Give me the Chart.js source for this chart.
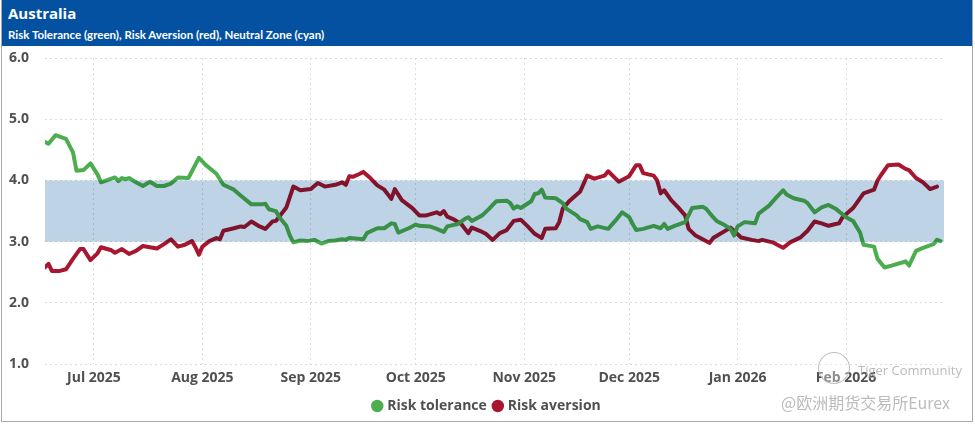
<!DOCTYPE html>
<html>
<head>
<meta charset="utf-8">
<script src="https://cdn.jsdelivr.net/npm/chart.js@4"></script>
<style>
  html, body { margin: 0; padding: 0; background: #fff; }
  #frame { position: absolute; left: 1px; top: 0; width: 972px; height: 422px; box-sizing: border-box;
           border: 1px solid #a9a9a9; border-top: none; overflow: hidden; }
  #header { position: absolute; left: 0; top: 0; width: 100%; height: 46px; background: #0351a0; color: #fff; }
  #title { position: absolute; left: 6px; top: 3px; font: bold 15px "Open Sans", sans-serif; }
  #subtitle { position: absolute; left: 6px; top: 28px; font: bold 11.5px "Lato", sans-serif; }
  #wrap { position: absolute; left: 1px; top: 46px; width: 969px; height: 377px; }
  .wm { position: absolute; color: rgba(175,175,175,0.85); white-space: nowrap; }
  #wmLogo { position: absolute; left: 816px; top: 352px; width: 30px; height: 30px; border: 1.5px solid rgba(175,175,175,0.8); border-radius: 50%; background: rgba(255,255,255,0.35); }
</style>
</head>
<body>
<div id="frame">
  <div id="header">
    <div id="title">Australia</div>
    <div id="subtitle">Risk Tolerance (green), Risk Aversion (red), Neutral Zone (cyan)</div>
  </div>
  <div id="wrap"><canvas id="c"></canvas></div>
  <div id="wmLogo"></div>
  <div class="wm" style="left:856px;top:361px;font:13px 'Open Sans',sans-serif;">Tiger Community</div>
  <div class="wm" style="left:779px;top:390px;font:16px 'Noto Sans CJK SC',sans-serif;">@欧洲期货交易所Eurex</div>
</div>
<script>
// ---- data ----
const toleranceDates = ['2025-06-17','2025-06-18','2025-06-20','2025-06-21','2025-06-23','2025-06-25','2025-06-26','2025-06-28','2025-06-30',
  '2025-07-02','2025-07-03','2025-07-05','2025-07-07','2025-07-08','2025-07-09','2025-07-10','2025-07-11','2025-07-13','2025-07-15','2025-07-17','2025-07-19','2025-07-21','2025-07-23','2025-07-25','2025-07-28','2025-07-31',
  '2025-08-02','2025-08-05','2025-08-07','2025-08-10','2025-08-12','2025-08-15','2025-08-18','2025-08-19','2025-08-20','2025-08-22','2025-08-23','2025-08-25','2025-08-26','2025-08-27','2025-08-29','2025-08-31',
  '2025-09-02','2025-09-04','2025-09-06','2025-09-08','2025-09-10','2025-09-11','2025-09-12','2025-09-16','2025-09-17','2025-09-20','2025-09-22','2025-09-24','2025-09-25','2025-09-26','2025-09-29',
  '2025-10-01','2025-10-02','2025-10-05','2025-10-07','2025-10-09','2025-10-10','2025-10-13','2025-10-15','2025-10-16','2025-10-17','2025-10-20','2025-10-22','2025-10-23','2025-10-24','2025-10-27','2025-10-28','2025-10-29','2025-10-30','2025-10-31',
  '2025-11-03','2025-11-04','2025-11-05','2025-11-06','2025-11-07','2025-11-10','2025-11-12','2025-11-13','2025-11-16','2025-11-17','2025-11-19','2025-11-20','2025-11-22','2025-11-25','2025-11-27','2025-11-29',
  '2025-12-01','2025-12-02','2025-12-03','2025-12-05','2025-12-08','2025-12-10','2025-12-11','2025-12-12','2025-12-14','2025-12-16','2025-12-17','2025-12-19','2025-12-22','2025-12-23','2025-12-25','2025-12-26','2025-12-28','2025-12-30','2025-12-31',
  '2026-01-01','2026-01-03','2026-01-06','2026-01-07','2026-01-10','2026-01-12','2026-01-14','2026-01-15','2026-01-17','2026-01-20','2026-01-21','2026-01-23','2026-01-24','2026-01-25','2026-01-27','2026-01-29',
  '2026-02-01','2026-02-03','2026-02-05','2026-02-06','2026-02-09','2026-02-10','2026-02-12','2026-02-14','2026-02-17','2026-02-18','2026-02-19','2026-02-21','2026-02-23','2026-02-24','2026-02-26','2026-02-27','2026-02-28'];
const toleranceValues = [4.63,4.60,4.74,4.72,4.68,4.46,4.16,4.17,4.28,
  4.10,3.97,4.01,4.05,3.99,4.04,4.02,4.04,3.97,3.91,3.98,3.91,3.91,3.95,4.05,4.04,4.37,
  4.25,4.11,3.93,3.85,3.75,3.61,3.61,3.62,3.53,3.50,3.40,3.26,3.10,2.99,3.02,3.01,
  3.03,2.97,3.01,3.02,3.04,3.03,3.06,3.04,3.14,3.22,3.22,3.30,3.29,3.15,3.22,
  3.28,3.26,3.25,3.21,3.16,3.25,3.29,3.37,3.40,3.34,3.43,3.54,3.60,3.66,3.67,3.63,3.54,3.58,3.55,
  3.66,3.78,3.79,3.85,3.72,3.71,3.63,3.54,3.43,3.37,3.32,3.21,3.25,3.21,3.34,3.48,
  3.40,3.29,3.19,3.21,3.26,3.22,3.29,3.21,3.26,3.30,3.32,3.55,3.57,3.54,3.40,3.34,3.28,3.21,3.10,
  3.25,3.32,3.30,3.46,3.59,3.72,3.84,3.77,3.71,3.67,3.63,3.48,3.52,3.56,3.60,3.54,
  3.40,3.34,3.15,2.95,2.92,2.72,2.58,2.61,2.66,2.68,2.61,2.85,2.90,2.92,2.96,3.03,3.01];

const aversionDates = ['2025-06-17','2025-06-18','2025-06-19','2025-06-21','2025-06-23','2025-06-25','2025-06-27','2025-06-28','2025-06-30',
  '2025-07-02','2025-07-03','2025-07-06','2025-07-07','2025-07-09','2025-07-11','2025-07-13','2025-07-15','2025-07-17','2025-07-19','2025-07-21','2025-07-23','2025-07-25','2025-07-27','2025-07-29','2025-07-30','2025-07-31',
  '2025-08-01','2025-08-03','2025-08-05','2025-08-06','2025-08-07','2025-08-10','2025-08-12','2025-08-13','2025-08-15','2025-08-17','2025-08-19','2025-08-21','2025-08-22','2025-08-25','2025-08-27','2025-08-29',
  '2025-09-01','2025-09-03','2025-09-05','2025-09-08','2025-09-10','2025-09-11','2025-09-12','2025-09-13','2025-09-15','2025-09-16','2025-09-18','2025-09-20','2025-09-22','2025-09-24','2025-09-25','2025-09-27','2025-09-30',
  '2025-10-02','2025-10-04','2025-10-07','2025-10-08','2025-10-09','2025-10-10','2025-10-12','2025-10-14','2025-10-16','2025-10-17','2025-10-20','2025-10-21','2025-10-23','2025-10-25','2025-10-27','2025-10-29','2025-10-31',
  '2025-11-02','2025-11-04','2025-11-06','2025-11-07','2025-11-10','2025-11-11','2025-11-12','2025-11-14','2025-11-17','2025-11-19','2025-11-21','2025-11-24','2025-11-25','2025-11-28',
  '2025-12-01','2025-12-03','2025-12-04','2025-12-05','2025-12-08','2025-12-09','2025-12-10','2025-12-11','2025-12-13','2025-12-15','2025-12-17','2025-12-18','2025-12-20','2025-12-22','2025-12-24','2025-12-25','2025-12-30',
  '2026-01-02','2026-01-05','2026-01-07','2026-01-08','2026-01-11','2026-01-13','2026-01-14','2026-01-16','2026-01-19','2026-01-21','2026-01-23','2026-01-25','2026-01-27','2026-01-29','2026-01-30','2026-01-31',
  '2026-02-03','2026-02-06','2026-02-09','2026-02-10','2026-02-11','2026-02-13','2026-02-16','2026-02-18','2026-02-19','2026-02-21','2026-02-23','2026-02-25','2026-02-27'];
const aversionValues = [2.58,2.64,2.52,2.52,2.55,2.72,2.88,2.88,2.70,
  2.81,2.91,2.86,2.82,2.88,2.80,2.85,2.93,2.91,2.89,2.96,3.04,2.92,2.95,3.01,2.91,2.79,
  2.92,3.01,3.06,3.04,3.18,3.22,3.25,3.24,3.33,3.26,3.21,3.33,3.34,3.56,3.90,3.84,
  3.86,3.96,3.90,3.93,3.97,3.93,4.07,4.06,4.11,4.14,4.04,3.92,3.85,3.70,3.86,3.68,3.55,
  3.43,3.43,3.48,3.45,3.50,3.41,3.36,3.29,3.14,3.23,3.16,3.13,3.03,3.14,3.19,3.34,3.36,
  3.25,3.13,3.06,3.21,3.22,3.32,3.54,3.67,3.82,4.08,4.03,4.08,4.15,3.98,
  4.07,4.25,4.25,4.12,4.08,4.00,3.79,3.84,3.68,3.56,3.43,3.21,3.10,3.04,2.98,3.06,3.23,
  3.07,3.03,3.01,3.03,2.99,2.93,2.90,2.99,3.07,3.18,3.33,3.30,3.26,3.29,3.30,3.40,
  3.55,3.79,3.85,4.00,4.09,4.25,4.26,4.19,4.17,4.04,3.97,3.86,3.90];

const neutralZone = [3.0, 4.0];
const rangeStart = '2025-06-17';
const rangeEnd = '2026-03-01';
const monthTickDates = ['2025-07-01','2025-08-01','2025-09-01','2025-10-01','2025-11-01','2025-12-01','2026-01-01','2026-02-01'];
const monthTickLabels = ['Jul 2025','Aug 2025','Sep 2025','Oct 2025','Nov 2025','Dec 2025','Jan 2026','Feb 2026'];
const yTicks = [1, 2, 3, 4, 5, 6];

// ---- build ----
const toDay = s => Date.parse(s + 'T00:00:00Z') / 86400000;
const pts = (d, v) => d.map((s, i) => ({ x: toDay(s), y: v[i] }));
const monthTickValues = monthTickDates.map(toDay);

const GREEN = '#4cae4f';
const RED = '#a8172f';
const TICK_FONT = { family: 'Open Sans', size: 14, weight: 'bold' };

const blendPlugin = {
  id: 'blend',
  afterDatasetDraw(chart, args) {
    // the neutral band is filled over the lines with multiply blending
    if (args.index === 0) chart.ctx.globalCompositeOperation = 'multiply';
    if (args.index === 2) chart.ctx.globalCompositeOperation = 'source-over';
  }
};

new Chart(document.getElementById('c'), {
  type: 'line',
  data: {
    datasets: [
      { label: 'Risk tolerance', data: pts(toleranceDates, toleranceValues), borderColor: GREEN, backgroundColor: GREEN,
        borderWidth: 4, pointRadius: 0, tension: 0, borderJoinStyle: 'round', borderCapStyle: 'round', order: 1, fill: false },
      { label: 'Risk aversion', data: pts(aversionDates, aversionValues), borderColor: RED, backgroundColor: RED,
        borderWidth: 4, pointRadius: 0, tension: 0, borderJoinStyle: 'round', borderCapStyle: 'round', order: 2, fill: false },
      { label: 'Neutral zone', data: [{ x: toDay(rangeStart), y: neutralZone[1] }, { x: toDay(rangeEnd), y: neutralZone[1] }],
        borderColor: 'rgba(0,0,0,0)', borderWidth: 1, pointRadius: 0, backgroundColor: 'rgb(191,211,230)',
        fill: { value: neutralZone[0] }, order: 0 }
    ]
  },
  options: {
    responsive: true,
    maintainAspectRatio: false,
    animation: false,
    layout: { padding: { left: 6, right: 6, top: 12, bottom: 0 } },
    plugins: {
      legend: {
        position: 'bottom',
        labels: {
          filter: item => item.datasetIndex !== 2,
          usePointStyle: true, pointStyle: 'circle', boxWidth: 6, boxHeight: 6,
          color: '#505050', font: TICK_FONT, padding: 8
        }
      },
      tooltip: { enabled: false }
    },
    scales: {
      x: {
        type: 'linear',
        min: toDay(rangeStart), max: toDay(rangeEnd),
        afterBuildTicks: s => { s.ticks = monthTickValues.map(v => ({ value: v })); },
        ticks: {
          autoSkip: false, maxRotation: 0, padding: 5,
          color: '#505050', font: TICK_FONT,
          callback: v => monthTickLabels[monthTickValues.indexOf(v)]
        },
        grid: { color: '#dcdcdc', lineWidth: 1, drawTicks: false },
        border: { display: false, dash: [2, 3] }
      },
      y: {
        min: 1, max: 6,
        afterBuildTicks: s => { s.ticks = yTicks.map(v => ({ value: v })); },
        afterFit: s => { s.width = 36; },
        ticks: {
          padding: 0, crossAlign: 'far', color: '#505050', font: TICK_FONT,
          callback: v => Number(v).toFixed(1)
        },
        grid: { color: '#dcdcdc', lineWidth: 1, drawTicks: false },
        border: { display: false, dash: [2, 3] }
      },
      yRight: {
        position: 'right', min: 1, max: 6,
        afterFit: s => { s.width = 22; },
        ticks: { display: false, padding: 0 },
        grid: { display: false, drawTicks: false },
        border: { display: false }
      }
    }
  },
  plugins: [blendPlugin]
});
</script>
</body>
</html>
